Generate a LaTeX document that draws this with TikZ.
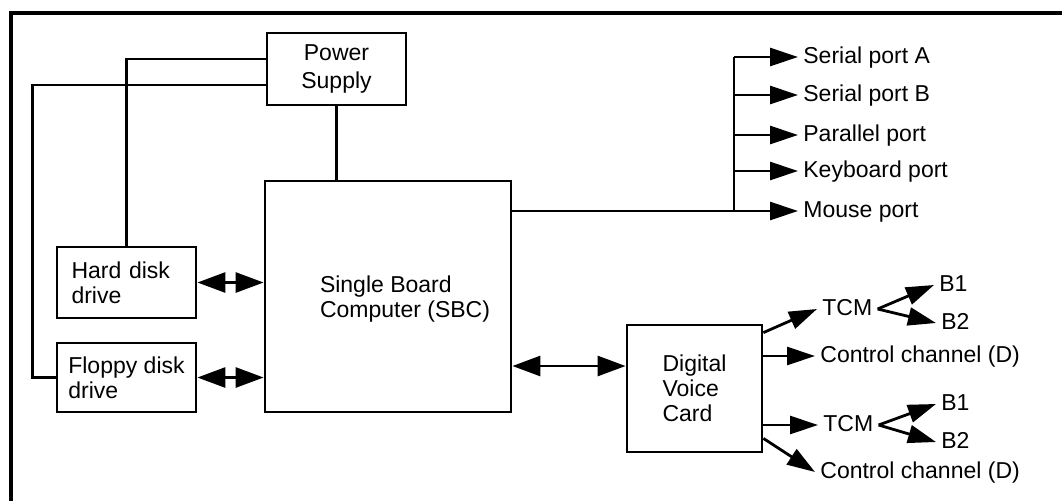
\documentclass[tikz,border=0pt]{standalone}
\usepackage{fontspec}
\setmainfont{Liberation Sans}
\usetikzlibrary{arrows.meta}

\begin{document}
\begin{tikzpicture}[x=0.5pt,y=-0.5pt,
  font=\fontsize{11.5}{12.5}\selectfont,
  line width=1.4pt,
  box/.style={draw, align=left, inner sep=0pt},
  lbl/.style={inner sep=2pt, anchor=west, text height=0.8em, text depth=0.2em},
  arr/.style={-{Triangle[length=14pt,width=9pt]}},
  dbl/.style={{Triangle[length=14pt,width=10pt]}-{Triangle[length=14pt,width=10pt]}}]
\useasboundingbox (0,0) rectangle (1062,500);
\draw[line width=2pt] (11,520) -- (11,13) -- (1080,13);

% boxes
\node[box, align=center, minimum width=69.5pt, minimum height=36pt,
  font=\fontsize{11.5}{14}\selectfont] (ps) at (336.5,69) {Power\\Supply};
\node[box, minimum width=123pt, minimum height=115.5pt] (sbc) at (388,296.5) {};
\node[align=left] (sbctxt) at (405,299.5) {Single Board\\Computer (SBC)};
\node[box, minimum width=69.5pt, minimum height=35.5pt, text width=55pt] (hd) at (126.5,282.5) {Hard disk\\drive};
\node[box, minimum width=69.5pt, minimum height=34.5pt] (fd) at (126.5,377.5) {Floppy disk\\drive};
\node[box, minimum width=67.5pt, minimum height=63.5pt] (dvc) at (694.5,388.5) {Digital\\Voice\\Card};

% power lines
\draw ([yshift=5pt]ps.west) -| (hd.north);
\draw ([yshift=-8pt]ps.west) -- ++(-233,0) |- (fd.west);
\draw (ps.south) -- (ps.south |- sbc.north);

% drives
\draw[dbl] (hd.east) -- (hd.east -| sbc.west);
\draw[dbl] (fd.east) -- (fd.east -| sbc.west);
\coordinate (dvcin) at ([yshift=11.25pt]dvc.west);
\draw[dbl] (sbc.east |- dvcin) -- (dvcin);

% ports
\node[lbl] (sera) at (798,57) {Serial port A};
\node[lbl] (serb) at (798,95) {Serial port B};
\node[lbl] (par) at (798,135) {Parallel port};
\node[lbl] (kbd) at (798,171) {Keyboard port};
\node[lbl] (mouse) at (798,211) {Mouse port};
\coordinate (bus) at ([yshift=42.75pt]sbc.east);
\coordinate (tap) at (734,211);
\draw (bus) -- (tap) -- (tap |- sera.west);
\foreach \p in {sera,serb,par,kbd,mouse}
  \draw[arr] (tap |- \p.west) -- (\p.west);

% voice card outputs
\node[lbl] (tcma) at (817,309) {TCM};
\node[lbl] (ctla) at (815,356) {Control channel (D)};
\node[lbl] (tcmb) at (818,425) {TCM};
\node[lbl] (ctlb) at (815,472) {Control channel (D)};
\node[lbl] (ba1) at (934,285) {B1};
\node[lbl] (ba2) at (936,323) {B2};
\node[lbl] (bb1) at (936,404) {B1};
\node[lbl] (bb2) at (936,442) {B2};

\draw[arr] ([yshift=-4.5pt]dvc.north east) -- (tcma.west);
\draw[arr] (dvc.east |- ctla.west) -- (ctla.west);
\draw[arr] (dvc.east |- tcmb.west) -- (tcmb.west);
\draw[arr] ([yshift=7.5pt]dvc.south east) -- (ctlb.west);
\foreach \t/\b in {tcma/ba1, tcma/ba2, tcmb/bb1, tcmb/bb2}
  \draw[arr] (\t.east) -- (\b.west);
\end{tikzpicture}
\end{document}
